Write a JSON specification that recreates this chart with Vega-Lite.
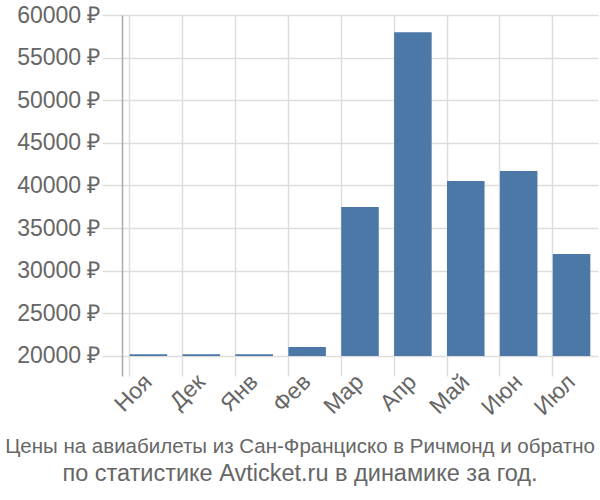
{
  "$schema": "https://vega.github.io/schema/vega-lite/v6.json",
  "autosize": {"type": "none"},
  "width": 476,
  "height": 361,
  "padding": {"left": 122, "top": 15, "right": 2, "bottom": 124},
  "background": "white",
  "data": {"values": [
    {"month": "Ноя", "price": 20200},
    {"month": "Дек", "price": 20200},
    {"month": "Янв", "price": 20200},
    {"month": "Фев", "price": 21050},
    {"month": "Мар", "price": 37470},
    {"month": "Апр", "price": 57980},
    {"month": "Май", "price": 40520},
    {"month": "Июн", "price": 41690},
    {"month": "Июл", "price": 31960}
  ]},
  "title": {
    "text": "Цены на авиабилеты из Сан-Франциско в Ричмонд и обратно",
    "subtitle": "по статистике Avticket.ru в динамике за год.",
    "orient": "bottom",
    "anchor": "middle",
    "frame": "group",
    "dx": -60,
    "offset": 17,
    "font": "Liberation Sans",
    "fontSize": 20.5,
    "fontWeight": "normal",
    "color": "#666666",
    "subtitleFont": "Liberation Sans",
    "subtitleFontSize": 23.5,
    "subtitleColor": "#666666",
    "subtitlePadding": 5
  },
  "config": {
    "view": {"stroke": null},
    "axis": {"labelFont": "Liberation Sans", "labelFontSize": 23, "labelColor": "#666666", "gridColor": "#dddddd", "gridWidth": 1.5}
  },
  "mark": {"type": "bar", "color": "#4c78a8"},
  "encoding": {
    "x": {
      "field": "month", "type": "nominal", "sort": null,
      "scale": {"paddingInner": 0.29, "paddingOuter": 0.145},
      "axis": {"title": null, "labelAngle": -45, "labelAlign": "right", "labelBaseline": "middle", "labelPadding": 2, "domain": false, "ticks": false, "grid": true, "bandPosition": 0}
    },
    "y": {
      "field": "price", "type": "quantitative",
      "scale": {"domain": [17650, 60000], "nice": false, "zero": false},
      "axis": {"title": null, "values": [20000, 25000, 30000, 35000, 40000, 45000, 50000, 55000, 60000], "labelExpr": "datum.value + ' ₽'", "tickSize": 20, "tickColor": "#dddddd", "tickWidth": 1.5, "labelPadding": 2, "domainColor": "#aaaaaa", "domainWidth": 1.5, "grid": true}
    },
    "y2": {"datum": 20000}
  }
}
